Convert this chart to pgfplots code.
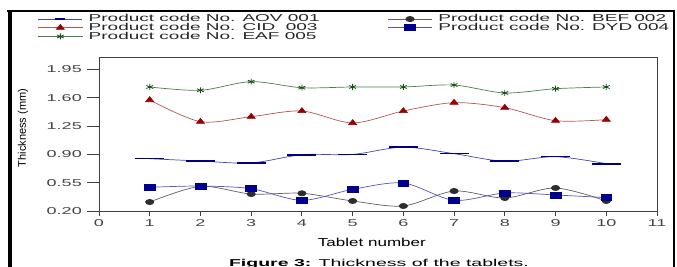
\documentclass[border=0pt]{standalone}
\usepackage{pgfplots}
\pgfplotsset{compat=1.18}
\usepackage{fontspec}
\setmainfont{Liberation Sans}
\newfontfamily\tickfont[FakeStretch=1.8]{Liberation Sans}
\newfontfamily\legfont[FakeStretch=1.9]{Liberation Sans}
\newfontfamily\xlabfont[FakeStretch=1.48]{Liberation Sans}
\newfontfamily\capfont[FakeStretch=1.95]{Liberation Sans}
\definecolor{axgray}{RGB}{64,64,64}
\definecolor{tickgray}{RGB}{70,70,70}
\definecolor{aovline}{RGB}{70,70,180}
\definecolor{aovmark}{RGB}{0,0,128}
\definecolor{befline}{RGB}{95,95,95}
\definecolor{befmark}{RGB}{45,45,45}
\definecolor{cidline}{RGB}{180,85,85}
\definecolor{cidmark}{RGB}{150,0,0}
\definecolor{dydline}{RGB}{85,85,195}
\definecolor{dydmark}{RGB}{0,0,140}
\definecolor{eafline}{RGB}{75,125,75}
\definecolor{eafmark}{RGB}{20,80,20}
\begin{document}
\begin{tikzpicture}
\useasboundingbox (0,0) rectangle (677pt,267pt);
\begin{axis}[
  at={(99pt,56pt)}, anchor=south west,
  scale only axis, width=558pt, height=153.6pt,
  xmin=0, xmax=11, ymin=0.2, ymax=2.1,
  xtick={0,1,...,11},
  ytick={0.20,0.55,0.90,1.25,1.60,1.95},
  tick align=outside, xtick pos=left, ytick pos=left,
  major tick length=5pt,
  axis line style={color=axgray, line width=0.9pt},
  tick style={color=axgray, line width=0.9pt},
  xtick style={/pgfplots/major tick length=5pt},
  ytick style={/pgfplots/major tick length=12pt},
  /pgf/number format/assume math mode=true,
  xticklabel style={font=\tickfont\fontsize{10}{12}\selectfont, text=tickgray},
  yticklabel style={font=\tickfont\fontsize{10}{12}\selectfont, text=tickgray, xshift=-8.7pt,
    /pgf/number format/fixed, /pgf/number format/fixed zerofill,
    /pgf/number format/precision=2},
  xlabel={Tablet number},
  xlabel style={font=\xlabfont\fontsize{11.5}{12}\selectfont, at={(axis description cs:0.489,0)}, anchor=base, yshift=-35.5pt},
  ylabel={Thickness (mm)},
  ylabel style={font=\fontsize{11}{12}\selectfont, at={(axis description cs:-0.1362,0.54)}, anchor=center},
  legend columns=2,
  legend cell align=left,
  legend style={at={(axis description cs:-0.1093,1.278)}, anchor=north west,
    draw=none, fill=none, inner sep=0pt, outer sep=0pt, row sep=0pt,
    font=\legfont\fontsize{10}{10}\selectfont, text=black!85,
    nodes={inner sep=0pt, outer sep=0pt, text height=7pt, text depth=1.7pt, anchor=west},
    /tikz/every odd column/.append style={column sep=6pt},
    /tikz/every even column/.append style={column sep=68pt}},
  legend image code/.code={\draw[mark repeat=2,mark phase=2,#1] plot coordinates {(0pt,0pt) (22pt,0pt) (44pt,0pt)};},
]
\addplot[smooth, color=aovline, line width=0.7pt, mark=-, mark size=14.5pt,
  mark options={draw=aovmark, line width=1.6pt},
  legend image code/.code={\draw[aovline, line width=0.7pt] (0pt,0pt) -- (44pt,0pt); \draw[aovmark, line width=1.6pt] (17pt,0pt) -- (27pt,0pt);}]
  coordinates {(1,0.847) (2,0.818) (3,0.794) (4,0.896) (5,0.900) (6,0.990) (7,0.909) (8,0.815) (9,0.872) (10,0.785)};
\addlegendentry{Product code No. AOV 001}
\addplot[smooth, color=befline, line width=0.7pt, mark=*, mark size=2.6pt,
  mark options={fill=befmark, draw=befmark, xscale=1.6}]
  coordinates {(1,0.311) (2,0.505) (3,0.410) (4,0.419) (5,0.324) (6,0.262) (7,0.447) (8,0.361) (9,0.485) (10,0.324)};
\addlegendentry{Product code No. BEF 002}
\addplot[smooth, color=cidline, line width=0.7pt, mark=triangle*, mark size=3.3pt,
  mark options={fill=cidmark, draw=cidmark, xscale=1.4}]
  coordinates {(1,1.573) (2,1.305) (3,1.367) (4,1.437) (5,1.289) (6,1.437) (7,1.540) (8,1.478) (9,1.317) (10,1.330)};
\addlegendentry{Product code No. CID\ \ 003}
\addplot[smooth, color=dydline, line width=0.7pt, mark=square*, mark size=3pt,
  mark options={fill=dydmark, draw=dydmark, xscale=1.8}]
  coordinates {(1,0.493) (2,0.509) (3,0.476) (4,0.332) (5,0.468) (6,0.546) (7,0.332) (8,0.423) (9,0.398) (10,0.365)};
\addlegendentry{Product code No. DYD 004}
\addplot[smooth, color=eafline, line width=0.7pt, mark=asterisk, mark size=3pt,
  mark options={draw=eafmark, line width=0.8pt, xscale=1.3}]
  coordinates {(1,1.734) (2,1.693) (3,1.800) (4,1.725) (5,1.734) (6,1.734) (7,1.758) (8,1.660) (9,1.713) (10,1.734)};
\addlegendentry{Product code No. EAF 005}
\end{axis}
\draw[line width=1.3pt] (7pt,256pt) -- (674pt,256pt);
\fill (7.5pt,0pt) rectangle (12pt,256.6pt);
\draw[line width=1.2pt] (674pt,256.6pt) -- (674pt,0pt);
\node[anchor=base, inner sep=0pt, font=\capfont\fontsize{10}{12}\selectfont] at (379pt,0.8pt) {\textbf{Figure 3:} Thickness of the tablets.};
\end{tikzpicture}
\end{document}
